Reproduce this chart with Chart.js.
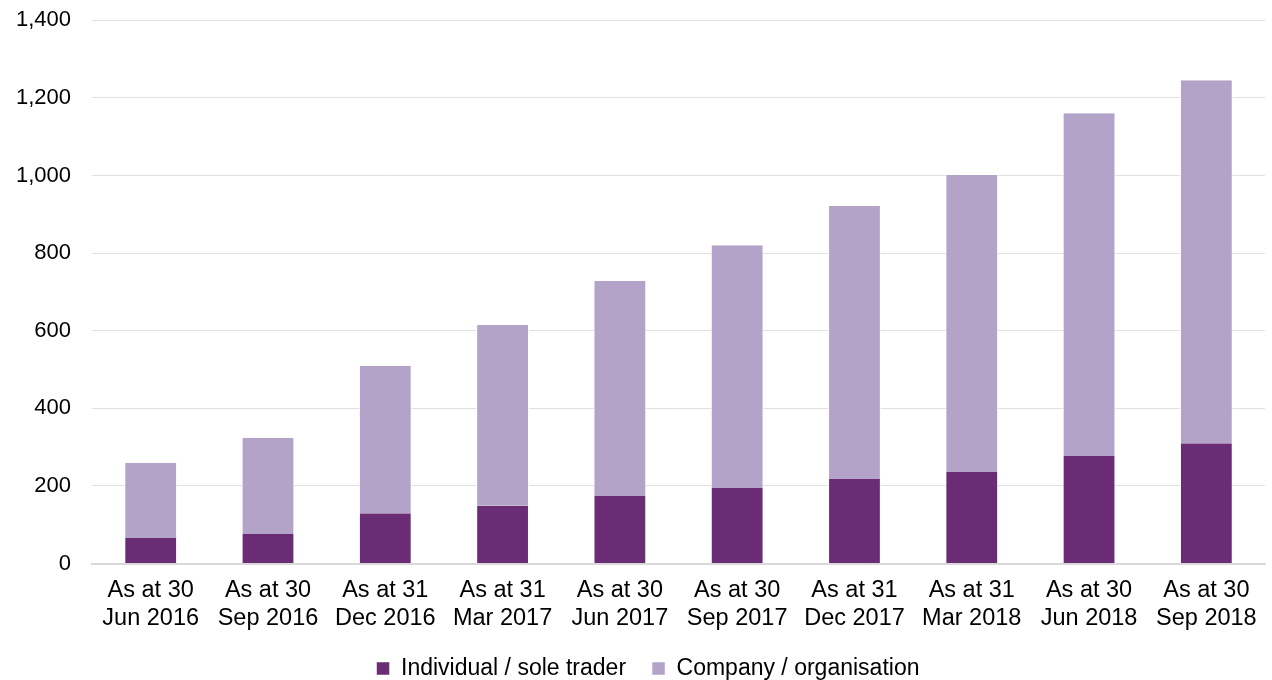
<!DOCTYPE html>
<html>
<head>
<meta charset="utf-8">
<script src="https://cdn.jsdelivr.net/npm/chart.js@4"></script>
<style>
  html, body { margin: 0; padding: 0; background: #fff; }
  #wrap { width: 1272px; height: 680px; }
</style>
</head>
<body>
<div id="wrap"><canvas id="chart"></canvas></div>
<script>
const categories = [
  ['As at 30', 'Jun 2016'], ['As at 30', 'Sep 2016'], ['As at 31', 'Dec 2016'],
  ['As at 31', 'Mar 2017'], ['As at 30', 'Jun 2017'], ['As at 30', 'Sep 2017'],
  ['As at 31', 'Dec 2017'], ['As at 31', 'Mar 2018'], ['As at 30', 'Jun 2018'],
  ['As at 30', 'Sep 2018']
];
const individual = [66, 76, 130, 150, 174, 195, 218, 236, 277, 310];
const company = [194, 248, 380, 465, 554, 625, 703, 765, 883, 935];
const seriesNames = ['Individual / sole trader', 'Company / organisation'];

const fmt = new Intl.NumberFormat('en-GB');
Chart.defaults.font.family = '"Liberation Sans", Arial, sans-serif';
Chart.defaults.color = '#000';

// wider gap between legend items without growing the legend vertically
const ITEM_GAP = 26;
const ROW_PAD = 14;
const legendGap = {
  id: 'legendGap',
  afterLayout(chart) {
    const lg = chart.legend;
    if (!lg) return;
    const dy = ITEM_GAP - ROW_PAD - 5;
    const dx = 11;
    lg.top -= dy;
    lg.bottom -= dy;
    lg.left += dx;
    lg.right += dx;
  }
};

new Chart(document.getElementById('chart'), {
  type: 'bar',
  data: {
    labels: categories,
    datasets: [
      { label: seriesNames[0], data: individual, backgroundColor: '#6A2C75', borderColor: '#fff', borderWidth: { left: 1, right: 1 }, borderSkipped: false },
      { label: seriesNames[1], data: company, backgroundColor: '#B3A3C8', borderColor: '#fff', borderWidth: { left: 1, right: 1 }, borderSkipped: false }
    ]
  },
  plugins: [legendGap],
  options: {
    responsive: true,
    maintainAspectRatio: false,
    animation: false,
    layout: { padding: { top: 0, right: 7, left: 9, bottom: -9 } },
    datasets: { bar: { categoryPercentage: 1, barPercentage: 0.45 } },
    scales: {
      x: {
        stacked: true,
        grid: { display: false },
        border: { color: '#d9d9d9', width: 2 },
        ticks: { font: { size: 23.5 }, padding: 5, maxRotation: 0, autoSkip: false }
      },
      y: {
        stacked: true,
        min: 0,
        max: 1400,
        border: { display: false },
        grid: { color: '#e0e0e0', lineWidth: 1, drawTicks: true, tickLength: 14, tickColor: 'rgba(0,0,0,0)' },
        ticks: { stepSize: 200, font: { size: 22 }, padding: 7, callback: v => fmt.format(v) }
      }
    },
    plugins: {
      legend: {
        position: 'bottom',
        maxHeight: 23 + 2 * ROW_PAD,
        labels: { boxWidth: 13, boxHeight: 13, padding: ITEM_GAP, font: { size: 23 } }
      },
      tooltip: { enabled: false }
    }
  }
});
</script>
</body>
</html>
